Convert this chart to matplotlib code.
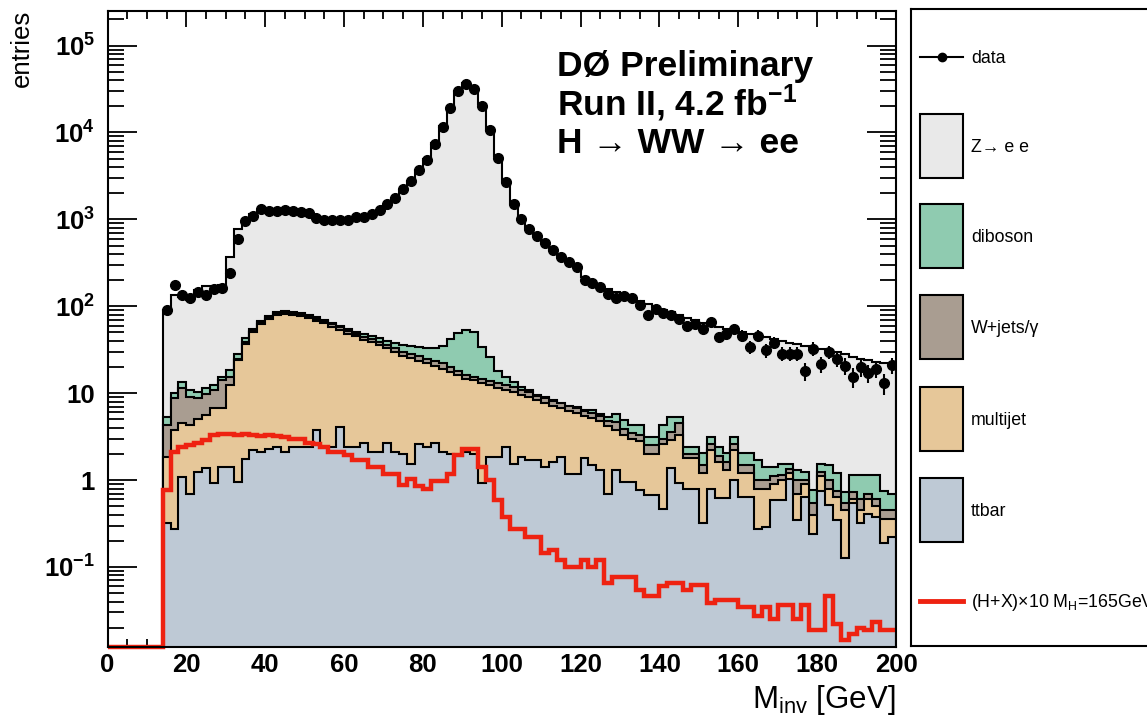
import numpy as np
import matplotlib
matplotlib.use('Agg')
import matplotlib.pyplot as plt
from matplotlib.patches import Rectangle
from matplotlib.ticker import FixedLocator, FixedFormatter, MultipleLocator, LogLocator, NullFormatter

plt.rcParams['font.family'] = ['Liberation Sans', 'DejaVu Sans']
plt.rcParams['mathtext.fontset'] = 'custom'
plt.rcParams['mathtext.rm'] = 'Liberation Sans'
plt.rcParams['mathtext.it'] = 'Liberation Sans:italic'
plt.rcParams['mathtext.bf'] = 'Liberation Sans:bold'

# ---------------- data (2 GeV bins, first filled bin starts at 14 GeV) ----------------
bin_lo, bin_hi, bin_w = 14, 200, 2
edges = np.arange(bin_lo, bin_hi + 1, bin_w)
n_empty = 7  # empty bins 0-14 GeV

# stack boundaries (cumulative heights, entries per bin)
ttbar = [0.32, 0.27, 1.09, 0.70, 1.25, 1.36, 0.92, 1.42, 1.42, 0.96,
         1.77, 2.2, 2.1, 2.3, 2.4, 2.1, 2.4, 2.4, 2.4, 3.75,
         2.4, 2.4, 4.1, 2.4, 2.4, 2.7, 2.1, 2.1, 2.7, 2.1,
         2.0, 1.55, 2.6, 2.4, 2.7, 2.1, 2.0, 1.95, 2.1, 2.0,
         0.92, 1.85, 1.85, 2.4, 1.55, 1.85, 1.7, 1.7, 1.42, 1.63,
         1.85, 1.19, 1.19, 1.78, 1.49, 1.3, 0.70, 1.3, 0.96, 0.96,
         0.77, 0.67, 0.67, 0.47, 1.36, 0.92, 0.80, 0.80, 0.32, 0.80,
         0.62, 0.62, 1.0, 0.64, 0.64, 0.27, 0.29, 0.59, 0.59, 1.04,
         0.35, 0.64, 0.24, 0.74, 0.52, 0.35, 0.126, 0.54, 0.32, 0.41,
         0.38, 0.19, 0.22]

stack_multijet = [1.85, 3.8, 4.5, 4.3, 5.1, 5.6, 6.7, 6.7, 12.4, 24,
                  37, 50, 63, 72, 79, 82, 80, 77, 74, 68,
                  64, 58, 54, 48.5, 45, 41, 38.5, 35.6, 33, 30,
                  27, 25.4, 23.5, 22, 20.5, 19, 17.5, 16, 14.5, 14,
                  13, 12.3, 11.5, 11, 10.3, 9.6, 9, 8.3, 7.8, 7.2,
                  6.8, 6.3, 5.9, 5.5, 5.2, 4.8, 4.2, 3.8, 3.3, 3.0,
                  2.8, 2.0, 2.0, 2.6, 2.9, 3.3, 1.8, 1.8, 1.2, 2.2,
                  1.6, 1.3, 2.2, 1.2, 1.2, 0.8, 0.8, 0.9, 1.0, 1.2,
                  0.7, 0.9, 0.4, 1.1, 0.8, 0.64, 0.45, 0.6, 0.45, 0.6,
                  0.5, 0.36, 0.36]

stack_wjets = [4.3, 8.7, 11.4, 9.1, 8.7, 9.9, 10.8, 14, 15.3, 25,
               38.7, 52.5, 66, 75.5, 83, 86, 84, 81, 78, 72,
               68, 62, 58, 52, 48.5, 44.5, 42, 39, 36, 33,
               30, 28.5, 26.5, 25, 23.5, 22, 20, 18, 16, 15.5,
               14.5, 13.8, 13, 12.5, 11.7, 11, 10.2, 9.4, 8.8, 8.1,
               7.7, 7.1, 6.7, 6.2, 5.9, 5.4, 4.8, 4.7, 3.9, 3.5,
               3.3, 2.5, 2.5, 3.0, 3.6, 4.5, 2.0, 2.0, 1.5, 2.6,
               1.9, 1.6, 2.6, 1.5, 1.5, 1.0, 1.0, 1.1, 1.15, 1.35,
               1.0, 1.0, 0.55, 1.25, 1.0, 0.74, 0.55, 0.72, 0.6, 0.7,
               0.6, 0.45, 0.45]

stack_diboson = [5.3, 10, 13.5, 10.8, 10.3, 11.4, 12.4, 15.3, 18.3, 28.6,
                 42.7, 55, 68, 78, 85, 88, 87, 84, 80, 75,
                 70, 65, 60, 55, 51, 48, 45, 43, 40, 38,
                 36, 35, 34, 33, 33, 35, 42, 49, 53, 50,
                 34, 26, 18, 15.5, 13.5, 11.8, 10.8, 9.5, 9.0, 8.3,
                 7.3, 7.0, 7.0, 6.4, 6.4, 5.8, 5.3, 5.8, 4.9, 4.3,
                 4.3, 3.15, 3.15, 4.3, 5.3, 5.3, 2.4, 2.4, 2.03, 3.15,
                 2.4, 2.03, 3.15, 2.03, 2.03, 1.7, 1.42, 1.42, 1.55, 1.55,
                 1.3, 1.25, 0.77, 1.55, 1.5, 1.2, 0.72, 1.14, 1.14, 1.14,
                 1.14, 0.75, 0.7]

stack_zee = [90, 134, 128, 117, 153, 170, 170, 175, 370, 780,
             930, 1150, 1250, 1270, 1270, 1260, 1240, 1200, 1150, 1080,
             1020, 990, 990, 1000, 1040, 1080, 1150, 1270, 1470, 1750,
             2200, 2750, 3700, 4900, 7500, 11800, 19500, 30000, 37000, 33000,
             21000, 10800, 5300, 2750, 1550, 1030, 790, 640, 540, 450,
             380, 325, 285, 215, 195, 178, 160, 145, 135, 125,
             115, 105, 97, 90, 85, 79, 74, 69, 65, 61,
             58, 55, 53, 51, 48, 46, 44, 42, 40, 38,
             37, 35, 34, 32, 31, 30, 28, 26, 25, 24,
             23, 22, 21]

data = [90, 178, 136, 124, 146, 134, 159, 164, 241, 600,
        955, 1080, 1300, 1245, 1260, 1280, 1260, 1210, 1180, 1045,
        990, 975, 990, 975, 1070, 1070, 1160, 1290, 1490, 1780,
        2210, 2740, 3660, 4850, 7400, 11500, 19300, 29800, 36500, 32000,
        20400, 10800, 5100, 2690, 1520, 1020, 780, 640, 535, 440,
        369, 323, 283, 199, 185, 167, 140, 123, 130, 126,
        103, 80, 94, 83, 80, 72, 60, 63, 55, 66,
        44, 48.5, 55, 46, 34, 46, 31, 38, 28.6, 28.6,
        28.6, 18, 32.6, 21.5, 29.9, 25, 20.6, 15.4, 20, 17.1,
        19.2, 13.1, 21]

signal_x10 = [0.77, 2.1, 2.4, 2.5, 2.7, 2.9, 3.3, 3.4, 3.4, 3.3,
              3.4, 3.3, 3.2, 3.3, 3.2, 3.1, 3.0, 3.0, 2.7, 2.6,
              2.4, 2.1, 2.1, 1.94, 1.7, 1.7, 1.42, 1.42, 1.19, 1.19,
              0.88, 1.04, 0.85, 0.80, 0.98, 0.98, 1.19, 1.94, 2.3, 2.3,
              1.42, 1.0, 0.59, 0.38, 0.27, 0.27, 0.22, 0.22, 0.144, 0.157,
              0.12, 0.10, 0.10, 0.12, 0.10, 0.12, 0.065, 0.077, 0.077, 0.077,
              0.055, 0.046, 0.046, 0.06, 0.065, 0.065, 0.055, 0.062, 0.062, 0.038,
              0.042, 0.042, 0.042, 0.035, 0.035, 0.027, 0.035, 0.025, 0.037, 0.037,
              0.025, 0.037, 0.019, 0.019, 0.046, 0.022, 0.0145, 0.017, 0.02, 0.019,
              0.0235, 0.019, 0.019]

layer_names = ['Z\u2192 e e', 'diboson', 'W+jets/\u03b3', 'multijet', 'ttbar']
layer_colors = ['#e9e9e9', '#8fcbb0', '#a99d91', '#e6c799', '#bec9d5']
signal_label = '(H+X)\u00d710 M$_{\\rm H}$=165GeV'
signal_color = '#ee2211'
y_ticks = [1e-1, 1, 10, 1e2, 1e3, 1e4, 1e5]
y_ticklabels = ['$\\mathbf{10^{-1}}$', '1', '10', '$\\mathbf{10^{2}}$', '$\\mathbf{10^{3}}$',
                '$\\mathbf{10^{4}}$', '$\\mathbf{10^{5}}$']

# ---------------- figure ----------------
W, H = 1147, 721
fig = plt.figure(figsize=(W / 100, H / 100), dpi=100)
ax = fig.add_axes([107.5 / W, 1 - 647 / H, (896 - 107.5) / W, (647 - 11) / H])
ymin, ymax = 0.012, 2.5e5
base = 1e-5

layers = [stack_zee, stack_diboson, stack_wjets, stack_multijet, ttbar]
for vals, col in zip(layers, layer_colors):
    ax.stairs(vals, edges, baseline=base, fill=True, facecolor=col,
              edgecolor='black', linewidth=1.5, zorder=2)

# signal (x10); empty bins drawn on the lower frame edge like ROOT
edges_full = np.arange(0, bin_hi + 1, bin_w)
sig_full = np.concatenate([np.zeros(n_empty), np.asarray(signal_x10)])
ax.stairs(np.clip(sig_full, ymin, None), edges_full, baseline=None, color=signal_color,
          linewidth=3.2, zorder=4, clip_on=False)

centers = edges[:-1] + bin_w / 2
d = np.asarray(data, dtype=float)
ax.errorbar(centers, d, yerr=np.sqrt(d), fmt='o', color='black', ms=7,
            elinewidth=1.5, capsize=0, zorder=5)

ax.set_yscale('log')
ax.set_ylim(ymin, ymax)
ax.set_xlim(0, 200)
ax.yaxis.set_major_locator(FixedLocator(y_ticks))
ax.yaxis.set_major_formatter(FixedFormatter(y_ticklabels))
ax.yaxis.set_minor_locator(LogLocator(base=10, subs=np.arange(2, 10), numticks=20))
ax.yaxis.set_minor_formatter(NullFormatter())
ax.xaxis.set_major_locator(MultipleLocator(20))
ax.xaxis.set_minor_locator(MultipleLocator(5))

ax.tick_params(axis='both', which='both', direction='in', top=True, right=True, width=1.3)
ax.tick_params(axis='y', which='major', length=21, pad=9)
ax.tick_params(axis='y', which='minor', length=11.5)
ax.tick_params(axis='x', which='major', length=11.5, pad=4)
ax.tick_params(axis='x', which='minor', length=6)
for lab in ax.get_xticklabels() + ax.get_yticklabels():
    lab.set_fontsize(18.5)
    lab.set_fontweight('bold')
for s in ax.spines.values():
    s.set_linewidth(1.5)
    s.set_zorder(6)

fig.text(22 / W, 1 - 10 / H, 'entries', rotation=90, ha='center', va='top', fontsize=18.5)
fig.text(895 / W, 1 - 708 / H, 'M$_{\\rm inv}$ [GeV]', ha='right', va='baseline', fontsize=22.5)

fig.text(557 / W, 1 - 76 / H, 'DØ Preliminary', fontsize=25.5, fontweight='bold', va='baseline')
fig.text(557 / W, 1 - 115 / H, 'Run II, 4.2 fb$^{\\mathbf{-1}}$', fontsize=25.5, fontweight='bold',
         va='baseline')
fig.text(557 / W, 1 - 153 / H, 'H \u2192 WW \u2192 ee', fontsize=25.5, fontweight='bold', va='baseline')

# ---------------- legend panel (pixel layout inside the panel) ----------------
panel_w, panel_h = 260, 637
axl = fig.add_axes([911 / W, 1 - 646 / H, panel_w / W, panel_h / H])
axl.set_xlim(0, panel_w)
axl.set_ylim(panel_h, 0)
axl.set_xticks([])
axl.set_yticks([])
for s in axl.spines.values():
    s.set_linewidth(1.5)

row_y = [48, 137, 227, 318, 410, 501, 592]
hx0, hw, hh, tx = 9, 43, 64, 60
fs = 12.8
txt_off = 6.3
# data entry
axl.plot([hx0, hx0 + hw], [row_y[0], row_y[0]], color='black', lw=1.5)
axl.plot([hx0 + hw / 2], [row_y[0]], 'o', color='black', ms=6)
axl.text(tx, row_y[0] + txt_off, 'data', fontsize=fs, va='baseline')
for yc, col, name in zip(row_y[1:6], layer_colors, layer_names):
    axl.add_patch(Rectangle((hx0, yc - hh / 2), hw, hh, facecolor=col, edgecolor='black', lw=1.5))
    axl.text(tx, yc + txt_off, name, fontsize=fs, va='baseline')
axl.plot([hx0, hx0 + hw], [row_y[6], row_y[6]], color=signal_color, lw=3.5)
axl.text(tx, row_y[6] + txt_off, signal_label, fontsize=fs, va='baseline')

fig.savefig('out.png', dpi=100)
